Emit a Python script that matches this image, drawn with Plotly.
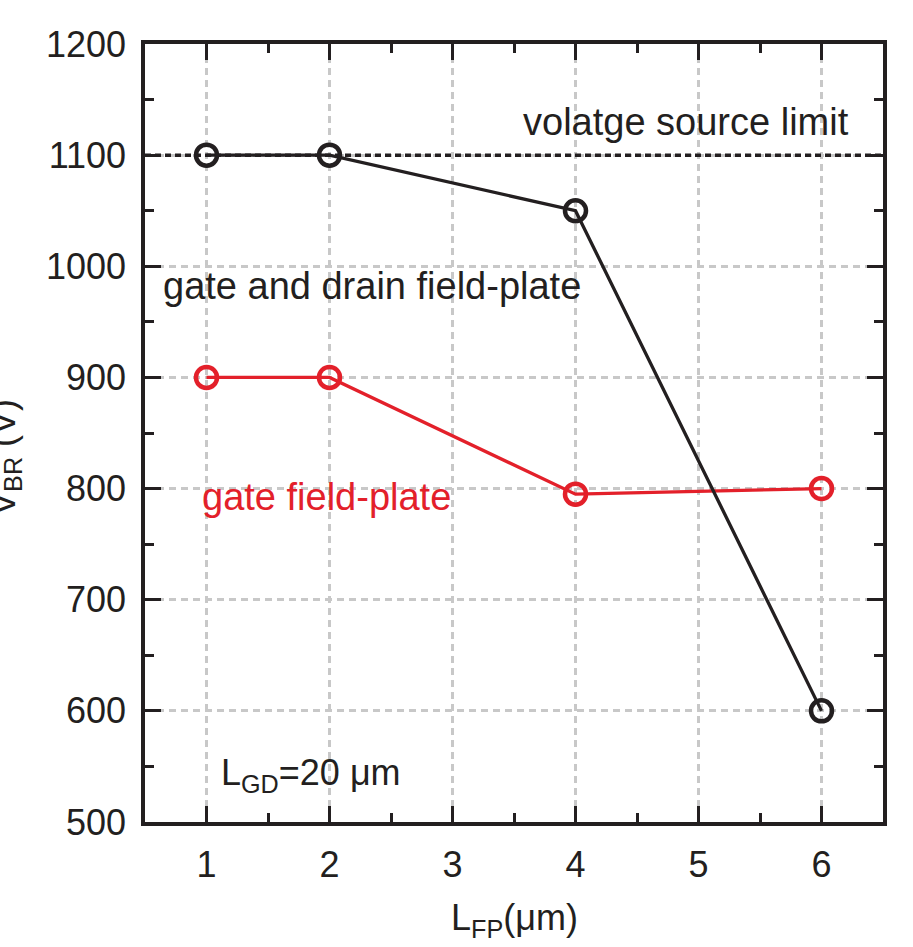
import plotly.graph_objects as go

lfp_x = [1, 2, 4, 6]
vbr_gate_drain = [1100, 1100, 1050, 600]
vbr_gate = [900, 900, 795, 800]
limit_v = 1100

x_ticks = [1, 2, 3, 4, 5, 6]
y_ticks = [500, 600, 700, 800, 900, 1000, 1100, 1200]

BLACK = "#231f20"
RED = "#e3202a"
FONT = "Liberation Sans, Arial, sans-serif"

fig = go.Figure()

fig.add_trace(go.Scatter(
    x=[0.5, 6.5], y=[limit_v, limit_v], mode="lines",
    line=dict(color=BLACK, width=3.5, dash="6px,4px"), showlegend=False))

fig.add_trace(go.Scatter(
    x=lfp_x, y=vbr_gate, mode="lines+markers",
    line=dict(color=RED, width=3.3),
    marker=dict(symbol="circle-open", size=21, color=RED, line=dict(width=4.5, color=RED)),
    showlegend=False))

fig.add_trace(go.Scatter(
    x=lfp_x, y=vbr_gate_drain, mode="lines+markers",
    line=dict(color=BLACK, width=3.3),
    marker=dict(symbol="circle-open", size=21, color=BLACK, line=dict(width=4.5, color=BLACK)),
    showlegend=False))

axis_common = dict(
    showline=True, linecolor=BLACK, linewidth=3.5, mirror="allticks",
    ticks="inside", ticklen=16, tickwidth=3, tickcolor=BLACK,
    showgrid=True, gridcolor="#c8c8c8", gridwidth=2.5, griddash="7px,5px",
    zeroline=False,
    tickfont=dict(family=FONT, size=36, color=BLACK),
)

fig.update_xaxes(
    range=[0.5, 6.5], tickvals=x_ticks, ticktext=[str(v) for v in x_ticks],
    minor=dict(ticks="inside", ticklen=9, tickwidth=3, tickcolor=BLACK, dtick=0.5, showgrid=False),
    ticklabelstandoff=8,
    **axis_common)
fig.update_yaxes(
    range=[500, 1200], tickvals=y_ticks, ticktext=[str(v) for v in y_ticks],
    minor=dict(ticks="inside", ticklen=9, tickwidth=3, tickcolor=BLACK, dtick=50, showgrid=False),
    ticklabelstandoff=8,
    **axis_common)

ann_font = dict(family=FONT, size=38, color=BLACK)
fig.add_annotation(x=6.236, y=1130, xref="x", yref="y", text="volatge source limit",
                   showarrow=False, xanchor="right", yanchor="middle", font=ann_font)
fig.add_annotation(x=0.63, y=982, xref="x", yref="y", text="gate and drain field-plate",
                   showarrow=False, xanchor="left", yanchor="middle", font=ann_font)
fig.add_annotation(x=0.95, y=792, xref="x", yref="y", text="gate field-plate",
                   showarrow=False, xanchor="left", yanchor="middle",
                   font=dict(family=FONT, size=38, color=RED))
fig.add_annotation(x=1.1, y=542, xref="x", yref="y",
                   text="L<sub>GD</sub>=20 \u03bcm",
                   showarrow=False, xanchor="left", yanchor="middle",
                   font=dict(family=FONT, size=36, color=BLACK))

fig.add_annotation(x=0.5, y=-0.126, xref="paper", yref="paper", text="L<sub>FP</sub>(\u03bcm)",
                   showarrow=False, font=dict(family=FONT, size=36, color=BLACK),
                   xanchor="center", yanchor="middle")
fig.add_annotation(x=-0.19, y=0.469, xref="paper", yref="paper", text="V<sub>BR</sub> (V)",
                   showarrow=False, font=dict(family=FONT, size=36, color=BLACK),
                   textangle=-90, xanchor="center", yanchor="middle")

fig.update_layout(
    width=913, height=947,
    margin=dict(l=145, r=30, t=44, b=125),
    paper_bgcolor="white", plot_bgcolor="white",
)

fig.write_html("out.html")
